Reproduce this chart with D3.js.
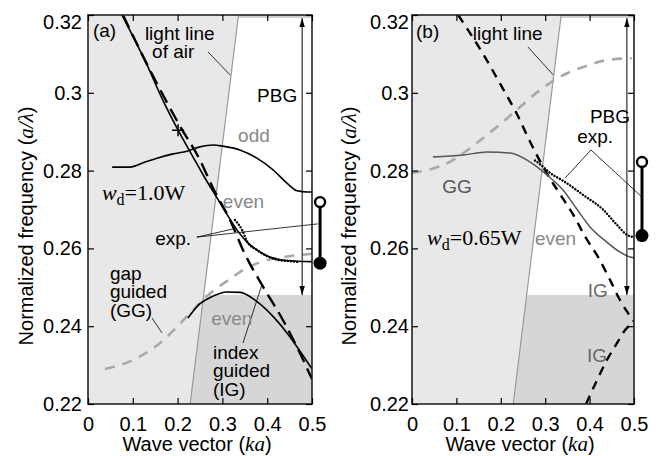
<!DOCTYPE html>
<html>
<head>
<meta charset="utf-8">
<script src="https://cdn.jsdelivr.net/npm/d3@7"></script>
<style>
  body { margin: 0; background: #fff; }
</style>
</head>
<body>
<div id="chart"></div>
<script>
// axes
var kTicks = [0, 0.1, 0.2, 0.3, 0.4, 0.5];
var freqTicks = [0.22, 0.24, 0.26, 0.28, 0.30, 0.32];
var lightLine = [[0.228, 0.22], [0.336, 0.32]];
var gapEdges = [0.248, 0.3192];   // bottom / top of the PBG

// panel (a), wd = 1.0W
var aOdd = [[0.054,0.2809],[0.094,0.2809],[0.123,0.2820],[0.154,0.2832],[0.190,0.2843],[0.221,0.2850],[0.250,0.2861],[0.279,0.2866],[0.301,0.2863],[0.339,0.2853],[0.377,0.2832],[0.413,0.2802],[0.444,0.2768],[0.467,0.2748],[0.489,0.2745],[0.500,0.2745]];
var aEven = [[0.076,0.3200],[0.134,0.3066],[0.167,0.2981],[0.201,0.2904],[0.232,0.2840],[0.261,0.2781],[0.288,0.2730],[0.310,0.2688],[0.333,0.2647],[0.355,0.2616],[0.384,0.2591],[0.406,0.2578],[0.433,0.2570],[0.467,0.2567],[0.500,0.2566]];
var aIGdash = [[0.078,0.3200],[0.138,0.3059],[0.205,0.2915],[0.250,0.2827],[0.279,0.2755],[0.317,0.2673],[0.350,0.2586],[0.391,0.2501],[0.435,0.2416],[0.473,0.2331],[0.500,0.2264]];
var aIGlow = [[0.223,0.2421],[0.250,0.2458],[0.275,0.2475],[0.310,0.2488],[0.340,0.2487],[0.375,0.2465],[0.414,0.2424],[0.448,0.2377],[0.476,0.2331],[0.500,0.2290]];
var aGG = [[0.038,0.2290],[0.100,0.2313],[0.161,0.2357],[0.225,0.2430],[0.270,0.2482],[0.310,0.2516],[0.355,0.2550],[0.400,0.2570],[0.450,0.2580],[0.500,0.2586]];
var aExp = [[0.328,0.2673],[0.344,0.2647],[0.355,0.2618],[0.377,0.2596],[0.400,0.2580],[0.422,0.2571],[0.450,0.2567],[0.473,0.2565]];
var aCross = [0.201, 0.2904];
var aMeas = [0.2562, 0.2719];

// panel (b), wd = 0.65W
var bEven = [[0.047,0.2835],[0.115,0.2840],[0.169,0.2848],[0.221,0.2845],[0.266,0.2822],[0.304,0.2789],[0.340,0.2750],[0.372,0.2700],[0.401,0.2655],[0.439,0.2616],[0.468,0.2591],[0.491,0.2578],[0.500,0.2576]];
var bGG = [[0.000,0.2794],[0.081,0.2820],[0.146,0.2871],[0.191,0.2912],[0.236,0.2956],[0.288,0.3007],[0.333,0.3041],[0.385,0.3066],[0.439,0.3084],[0.495,0.3089]];
var bIGdown = [[0.104,0.3200],[0.160,0.3100],[0.205,0.3010],[0.236,0.2946],[0.266,0.2874],[0.300,0.2800],[0.340,0.2728],[0.365,0.2683],[0.390,0.2630],[0.419,0.2578],[0.446,0.2519],[0.468,0.2468],[0.484,0.2438],[0.500,0.2412]];
var bIGup = [[0.392,0.2200],[0.417,0.2262],[0.439,0.2313],[0.462,0.2357],[0.480,0.2390],[0.500,0.2412]];
var bExp = [[0.277,0.2826],[0.290,0.2815],[0.311,0.2794],[0.340,0.2774],[0.385,0.2738],[0.430,0.2700],[0.462,0.2660],[0.484,0.2635],[0.495,0.2630]];
var bMeas = [0.2633, 0.2822];

var sans = '"Liberation Sans", Arial, sans-serif';
var serif = '"Liberation Serif", "Times New Roman", serif';
var width = 664, height = 456;

var svg = d3.select("#chart").append("svg")
    .attr("width", width)
    .attr("height", height)
    .attr("font-family", sans);

var defs = svg.append("defs");
defs.append("marker")
    .attr("id", "arr")
    .attr("viewBox", "0 0 10 10")
    .attr("refX", 10).attr("refY", 5)
    .attr("markerUnits", "userSpaceOnUse")
    .attr("markerWidth", 9).attr("markerHeight", 9)
    .attr("orient", "auto-start-reverse")
  .append("path")
    .attr("d", "M0,2L10,5L0,8z")
    .attr("fill", "#000");

function drawPanel(p) {
  var x = d3.scaleLinear().domain([0, 0.5]).range([p.x0, p.x1]);
  var y = d3.scaleLinear().domain([0.22, 0.32]).range([404, 15]);
  var g = svg.append("g");

  defs.append("clipPath").attr("id", "clip" + p.id)
    .append("rect")
      .attr("x", x(0)).attr("y", y(0.32))
      .attr("width", x(0.5) - x(0)).attr("height", y(0.22) - y(0.32));

  var plot = g.append("g").attr("clip-path", "url(#clip" + p.id + ")");

  var kOn = function(w) {
    return lightLine[0][0] + (w - lightLine[0][1]) * (lightLine[1][0] - lightLine[0][0]) / (lightLine[1][1] - lightLine[0][1]);
  };
  var poly = d3.line().x(function(d) { return x(d[0]); }).y(function(d) { return y(d[1]); });
  var curve = d3.line().curve(d3.curveMonotoneX).x(function(d) { return x(d[0]); }).y(function(d) { return y(d[1]); });

  // light cone of air
  plot.append("path")
    .datum([[0, 0.22], [kOn(0.22), 0.22], [kOn(0.32), 0.32], [0, 0.32]])
    .attr("d", poly).attr("fill", "#e8e8e8");
  // slab bands below and above the gap
  plot.append("path")
    .datum([[kOn(0.22), 0.22], [0.5, 0.22], [0.5, gapEdges[0]], [kOn(gapEdges[0]), gapEdges[0]]])
    .attr("d", poly).attr("fill", "#d6d6d6");
  plot.append("path")
    .datum([[kOn(gapEdges[1]), gapEdges[1]], [0.5, gapEdges[1]], [0.5, 0.32], [kOn(0.32), 0.32]])
    .attr("d", poly).attr("fill", "#cfcfcf");
  plot.append("path")
    .datum(lightLine)
    .attr("d", poly).attr("fill", "none").attr("stroke", "#9a9a9a").attr("stroke-width", 1.2);

  p.lines.forEach(function(s) {
    plot.append("path")
      .datum(s.data)
      .attr("d", curve)
      .attr("fill", "none")
      .attr("stroke", s.color)
      .attr("stroke-width", s.width)
      .attr("stroke-dasharray", s.dash || null)
      .attr("stroke-linecap", s.cap || "butt");
  });

  if (p.cross) {
    plot.append("path")
      .attr("transform", "translate(" + x(p.cross[0]) + "," + y(p.cross[1]) + ")")
      .attr("d", "M-6,0H6M0,-6V6")
      .attr("stroke", "#000").attr("stroke-width", 1.5);
  }

  // PBG double arrow
  g.append("line")
    .attr("x1", x(p.pbgK)).attr("x2", x(p.pbgK))
    .attr("y1", y(gapEdges[1])).attr("y2", y(gapEdges[0]))
    .attr("stroke", "#000").attr("stroke-width", 1)
    .attr("marker-start", "url(#arr)").attr("marker-end", "url(#arr)");

  // frame and ticks
  g.append("rect")
    .attr("x", x(0)).attr("y", y(0.32))
    .attr("width", x(0.5) - x(0)).attr("height", y(0.22) - y(0.32))
    .attr("fill", "none").attr("stroke", "#222").attr("stroke-width", 1.6);

  var axB = g.append("g").attr("transform", "translate(0," + y(0.22) + ")")
    .call(d3.axisBottom(x).tickValues(kTicks).tickSizeInner(-6).tickSizeOuter(0).tickPadding(13).tickFormat(d3.format("~g")));
  var axT = g.append("g").attr("transform", "translate(0," + y(0.32) + ")")
    .call(d3.axisTop(x).tickValues(kTicks).tickSizeInner(-6).tickSizeOuter(0).tickFormat(""));
  var axL = g.append("g").attr("transform", "translate(" + x(0) + ",0)")
    .call(d3.axisLeft(y).tickValues(freqTicks).tickSizeInner(-6).tickSizeOuter(0).tickPadding(p.pad).tickFormat(d3.format("~g")));
  var axR = g.append("g").attr("transform", "translate(" + x(0.5) + ",0)")
    .call(d3.axisRight(y).tickValues(freqTicks).tickSizeInner(-6).tickSizeOuter(0).tickFormat(""));
  [axB, axT, axL, axR].forEach(function(a) {
    a.attr("font-family", sans);
    a.select(".domain").remove();
    a.selectAll("line").attr("stroke", "#000").attr("stroke-width", 1.2);
    a.selectAll("text").attr("font-size", 20).attr("fill", "#000");
  });
  axL.selectAll(".tick").filter(function(d) { return d === 0.32; })
    .select("text").attr("dy", "0.65em");

  // axis titles
  var yl = g.append("text")
    .attr("transform", "translate(" + p.ylabX + ",226) rotate(-90)")
    .attr("text-anchor", "middle").attr("font-size", 20);
  yl.append("tspan").text("Normalized frequency (");
  yl.append("tspan").attr("font-family", serif).attr("font-style", "italic").attr("font-size", 21).text("a/λ");
  yl.append("tspan").text(")");

  var xl = g.append("text")
    .attr("x", (x(0) + x(0.5)) / 2 - 3).attr("y", 451)
    .attr("text-anchor", "middle").attr("font-size", 20);
  xl.append("tspan").text("Wave vector (");
  xl.append("tspan").attr("font-family", serif).attr("font-style", "italic").attr("font-size", 21).text("ka");
  xl.append("tspan").text(")");

  // leader lines
  p.leaders.forEach(function(l) {
    g.append("path").datum(l).attr("d", poly)
      .attr("fill", "none").attr("stroke", "#000").attr("stroke-width", 0.8);
  });

  // measured frequency range marker
  g.append("line")
    .attr("x1", x(p.measK)).attr("x2", x(p.measK))
    .attr("y1", y(p.meas[0])).attr("y2", y(p.meas[1]))
    .attr("stroke", "#000").attr("stroke-width", 3);
  g.append("circle").attr("cx", x(p.measK)).attr("cy", y(p.meas[1])).attr("r", 5)
    .attr("fill", "#fff").attr("stroke", "#000").attr("stroke-width", 2.4);
  g.append("circle").attr("cx", x(p.measK)).attr("cy", y(p.meas[0])).attr("r", 6.5)
    .attr("fill", "#000");

  // text notes, multi-line ones as one text block
  p.notes.forEach(function(n) {
    var lines = [].concat(n.t);
    var t = g.append("text")
      .attr("x", x(n.k)).attr("y", y(n.w))
      .attr("text-anchor", n.anchor || "start")
      .attr("font-size", 19)
      .attr("fill", n.color || "#000");
    lines.forEach(function(s, i) {
      t.append("tspan").attr("x", x(n.k)).attr("dy", i === 0 ? 0 : 18.5).text(s);
    });
  });

  var wd = g.append("text")
    .attr("x", x(p.wdAt[0])).attr("y", y(p.wdAt[1]))
    .attr("font-family", serif).attr("font-size", 22);
  wd.append("tspan").attr("font-style", "italic").text("w");
  wd.append("tspan").attr("font-size", 16).attr("dy", 5).text("d");
  wd.append("tspan").attr("dy", -5).text("=" + p.wdText);
}

drawPanel({
  id: "a", x0: 88, x1: 312, pad: 6, ylabX: 33,
  pbgK: 0.478, measK: 0.518, meas: aMeas, cross: aCross,
  wdAt: [0.031, 0.2724], wdText: "1.0W",
  lines: [
    { data: aGG, color: "#a8a8a8", width: 2.6, dash: "10,8" },
    { data: aIGdash, color: "#000", width: 2.4, dash: "14,7" },
    { data: aIGlow, color: "#000", width: 1.6 },
    { data: aOdd, color: "#000", width: 1.6 },
    { data: aEven, color: "#000", width: 1.6 },
    { data: aExp, color: "#000", width: 2.4, dash: "0.1,3", cap: "round" }
  ],
  leaders: [
    [[0.268, 0.3105], [0.317, 0.3046]],
    [[0.324, 0.2650], [0.243, 0.2629], [0.513, 0.2663]],
    [[0.143, 0.2421], [0.165, 0.2383]],
    [[0.346, 0.2357], [0.388, 0.2506]]
  ],
  notes: [
    { t: "(a)", k: 0.011, w: 0.3143 },
    { t: "light line", k: 0.127, w: 0.3136 },
    { t: "of air", k: 0.143, w: 0.3089 },
    { t: "PBG", k: 0.467, w: 0.2977, anchor: "end" },
    { t: "odd", k: 0.335, w: 0.2874, color: "#888" },
    { t: "even", k: 0.301, w: 0.2704, color: "#888" },
    { t: "exp.", k: 0.150, w: 0.2609 },
    { t: ["gap", "guided", "(GG)"], k: 0.049, w: 0.2519 },
    { t: "even", k: 0.275, w: 0.2403, color: "#888" },
    { t: ["index", "guided", "(IG)"], k: 0.279, w: 0.2316 }
  ]
});

drawPanel({
  id: "b", x0: 412, x1: 634, pad: 3, ylabX: 356,
  pbgK: 0.484, measK: 0.518, meas: bMeas, cross: null,
  wdAt: [0.034, 0.2609], wdText: "0.65W",
  lines: [
    { data: bGG, color: "#a8a8a8", width: 2.6, dash: "10,8" },
    { data: bIGdown, color: "#000", width: 2.4, dash: "9,7" },
    { data: bIGup, color: "#000", width: 2.4, dash: "9,7" },
    { data: bEven, color: "#555", width: 1.5 },
    { data: bExp, color: "#000", width: 2.4, dash: "0.1,3", cap: "round" }
  ],
  leaders: [
    [[0.261, 0.3118], [0.318, 0.3046]],
    [[0.345, 0.2781], [0.403, 0.2853], [0.518, 0.2732]]
  ],
  notes: [
    { t: "(b)", k: 0.009, w: 0.3141 },
    { t: "light line", k: 0.137, w: 0.3137 },
    { t: "PBG", k: 0.491, w: 0.2922, anchor: "end" },
    { t: "exp.", k: 0.372, w: 0.2871 },
    { t: "GG", k: 0.068, w: 0.2742, color: "#555" },
    { t: "even", k: 0.277, w: 0.2609, color: "#888" },
    { t: "IG", k: 0.396, w: 0.2475, color: "#666" },
    { t: "IG", k: 0.394, w: 0.2308, color: "#666" }
  ]
});
</script>
</body>
</html>
